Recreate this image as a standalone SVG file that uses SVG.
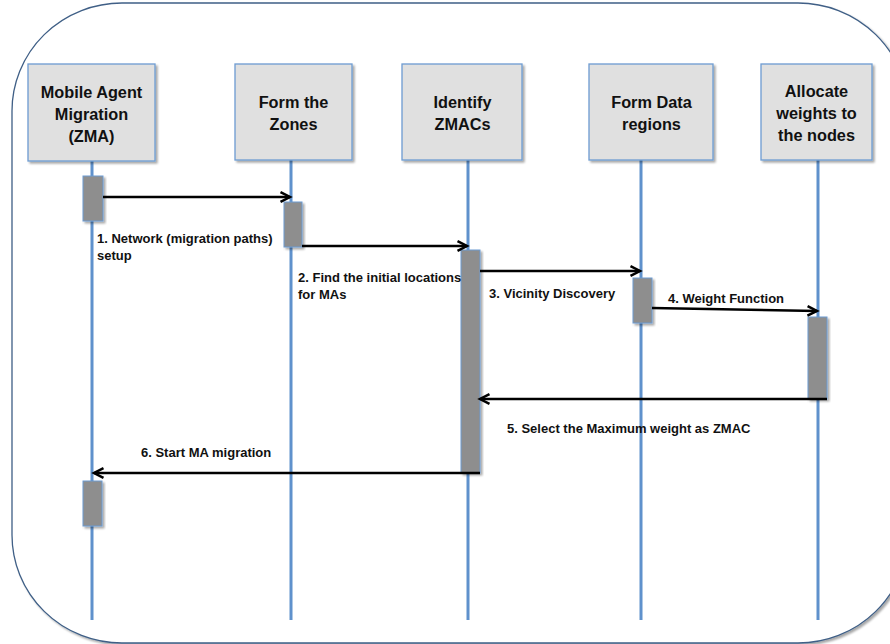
<svg xmlns="http://www.w3.org/2000/svg" width="890" height="644" viewBox="0 0 890 644">
  <defs>
    <filter id="shadow" x="-10%" y="-10%" width="130%" height="130%">
      <feGaussianBlur in="SourceAlpha" stdDeviation="1.2"/>
      <feOffset dx="1.5" dy="2" result="o"/>
      <feComponentTransfer><feFuncA type="linear" slope="0.35"/></feComponentTransfer>
      <feMerge><feMergeNode/><feMergeNode in="SourceGraphic"/></feMerge>
    </filter>
    <marker id="arrow" markerUnits="userSpaceOnUse" markerWidth="14" markerHeight="14" viewBox="0 0 14 14" refX="11" refY="7" orient="auto">
      <path d="M1.5,2.2 L11,7 L1.5,11.8" fill="none" stroke="#000" stroke-width="2.5" stroke-linejoin="miter"/>
    </marker>
    <style>
      .frame { fill: #fff; stroke: #3f5f86; stroke-width: 1.3; }
      .box { fill: #e0e0e0; stroke: #6d9bd1; stroke-width: 1.3; }
      .life { stroke: #5f91cc; stroke-width: 3; }
      .bar { fill: #8e8e8e; stroke: #6d9bd1; stroke-width: 1; }
      .title { font-family: "Liberation Sans", Arial, sans-serif; font-weight: bold; font-size: 16.3px; fill: #111; text-anchor: middle; }
      .msg { font-family: "Liberation Sans", Arial, sans-serif; font-weight: bold; font-size: 13px; fill: #111; }
      .conn { stroke: #000; stroke-width: 2.6; fill: none; marker-end: url(#arrow); }
    </style>
  </defs>

  <!-- outer frame -->
  <rect class="frame" x="12" y="3" width="896" height="640" rx="110" ry="108" filter="url(#shadow)"/>

  <!-- lifelines with their heads and activation bars -->
  <g id="node-zma">
    <line class="life" x1="92" y1="161" x2="92" y2="620"/>
    <rect class="box" x="28" y="64" width="127" height="97" filter="url(#shadow)"/>
    <text class="title" x="91.5" y="98">Mobile Agent</text>
    <text class="title" x="91.5" y="120">Migration</text>
    <text class="title" x="91.5" y="142">(ZMA)</text>
    <rect class="bar" x="83" y="176" width="20" height="45" filter="url(#shadow)"/>
    <rect class="bar" x="83" y="481" width="19" height="45" filter="url(#shadow)"/>
  </g>

  <g id="node-zones">
    <line class="life" x1="291" y1="160" x2="291" y2="620"/>
    <rect class="box" x="235" y="64" width="117" height="96" filter="url(#shadow)"/>
    <text class="title" x="293.5" y="108">Form the</text>
    <text class="title" x="293.5" y="130">Zones</text>
    <rect class="bar" x="284" y="202" width="18" height="45" filter="url(#shadow)"/>
  </g>

  <g id="node-zmacs">
    <line class="life" x1="468" y1="160" x2="468" y2="620"/>
    <rect class="box" x="402" y="64" width="120" height="96" filter="url(#shadow)"/>
    <text class="title" x="462.5" y="108">Identify</text>
    <text class="title" x="462.5" y="130">ZMACs</text>
    <rect class="bar" x="461" y="250" width="19" height="223" filter="url(#shadow)"/>
  </g>

  <g id="node-regions">
    <line class="life" x1="641" y1="160" x2="641" y2="620"/>
    <rect class="box" x="589" y="64" width="124" height="96" filter="url(#shadow)"/>
    <text class="title" x="651.5" y="108">Form Data</text>
    <text class="title" x="651.5" y="130">regions</text>
    <rect class="bar" x="633" y="278" width="19" height="45" filter="url(#shadow)"/>
  </g>

  <g id="node-weights">
    <line class="life" x1="818" y1="160" x2="818" y2="620"/>
    <rect class="box" x="761" y="64" width="111" height="96" filter="url(#shadow)"/>
    <text class="title" x="816.5" y="97">Allocate</text>
    <text class="title" x="816.5" y="119">weights to</text>
    <text class="title" x="816.5" y="141">the nodes</text>
    <rect class="bar" x="808" y="317" width="19" height="82" filter="url(#shadow)"/>
  </g>

  <!-- messages -->
  <g id="connectors">
    <line class="conn" x1="103" y1="197" x2="290" y2="197"/>
    <line class="conn" x1="302" y1="246" x2="467" y2="246"/>
    <line class="conn" x1="480" y1="271" x2="640" y2="271"/>
    <line class="conn" x1="652" y1="308" x2="817" y2="311"/>
    <line class="conn" x1="827" y1="399" x2="480" y2="399"/>
    <line class="conn" x1="480" y1="473" x2="94" y2="473"/>
  </g>

  <g id="labels">
    <text class="msg" x="97" y="243">1. Network (migration paths)</text>
    <text class="msg" x="97" y="260">setup</text>
    <text class="msg" x="298" y="282">2. Find the initial locations</text>
    <text class="msg" x="298" y="299">for MAs</text>
    <text class="msg" x="489" y="298">3. Vicinity Discovery</text>
    <text class="msg" x="668" y="303">4. Weight Function</text>
    <text class="msg" x="507" y="433">5. Select the Maximum weight as ZMAC</text>
    <text class="msg" x="141" y="457">6. Start MA migration</text>
  </g>
</svg>
